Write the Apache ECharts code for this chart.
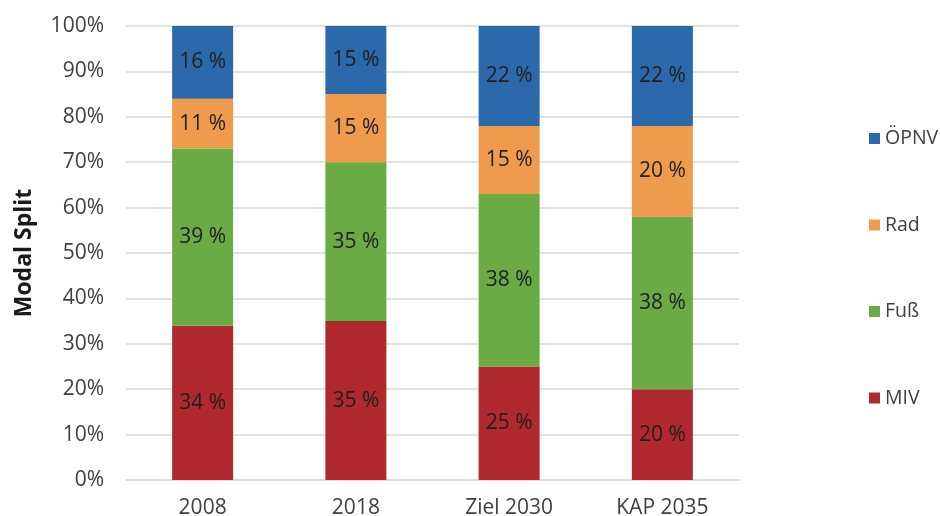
<!DOCTYPE html>
<html><head><meta charset="utf-8">
<script src="https://cdn.jsdelivr.net/npm/echarts@6/dist/echarts.min.js"></script>
<style>html,body{margin:0;padding:0;background:#fff}#c{width:940px;height:516px}</style>
</head><body><div id="c"></div>
<script>
const categories = ['2008', '2018', 'Ziel 2030', 'KAP 2035'];
const miv = [34, 35, 25, 20];
const fuss = [39, 35, 38, 38];
const rad = [11, 15, 15, 20];
const oepnv = [16, 15, 22, 22];
const yTicks = [0, 10, 20, 30, 40, 50, 60, 70, 80, 90, 100];

const font = '"Open Sans", "Noto Sans", sans-serif';
function mk(name, data, color) {
  return {
    name, type: 'bar', stack: 'a', data, barWidth: 61,
    itemStyle: { color },
    label: { show: true, position: 'inside', formatter: p => p.value + ' %',
      color: '#1f1f1f', fontSize: 21, fontFamily: font }
  };
}
const chart = echarts.init(document.getElementById('c'));
chart.setOption({
  animation: false,
  textStyle: { fontFamily: font },
  grid: { left: 126, right: 201, top: 26, bottom: 36, outerBoundsMode: 'none', containLabel: false },
  legend: {
    orient: 'vertical', left: 864, top: 122, itemGap: 63.5,
    itemWidth: 11, itemHeight: 11, icon: 'rect', itemStyle: { borderWidth: 0 },
    data: ['ÖPNV', 'Rad', 'Fuß', 'MIV'],
    textStyle: { fontSize: 19.5, color: '#404040', fontFamily: font, lineHeight: 23 }
  },
  xAxis: {
    type: 'category', data: categories,
    axisLine: { show: true, lineStyle: { color: '#d9d9d9', width: 1.5 } },
    axisTick: { show: false },
    axisLabel: { fontSize: 21, color: '#404040', margin: 18 }
  },
  yAxis: {
    type: 'value', min: 0, max: 100, interval: 10,
    name: 'Modal Split', nameLocation: 'middle', nameGap: 90,
    nameTextStyle: { fontSize: 23, fontWeight: 'bold', color: '#1a1a1a' },
    axisLabel: { fontSize: 21, color: '#404040', margin: 22,
      formatter: v => yTicks.includes(v) ? v + '%' : '' },
    splitLine: { lineStyle: { color: '#d9d9d9', width: 1.5 } },
    axisLine: { show: false }, axisTick: { show: false }
  },
  series: [
    mk('MIV', miv, '#b0292e'),
    mk('Fuß', fuss, '#6aab45'),
    mk('Rad', rad, '#ee9b4e'),
    mk('ÖPNV', oepnv, '#2b69ab')
  ]
});
</script></body></html>
